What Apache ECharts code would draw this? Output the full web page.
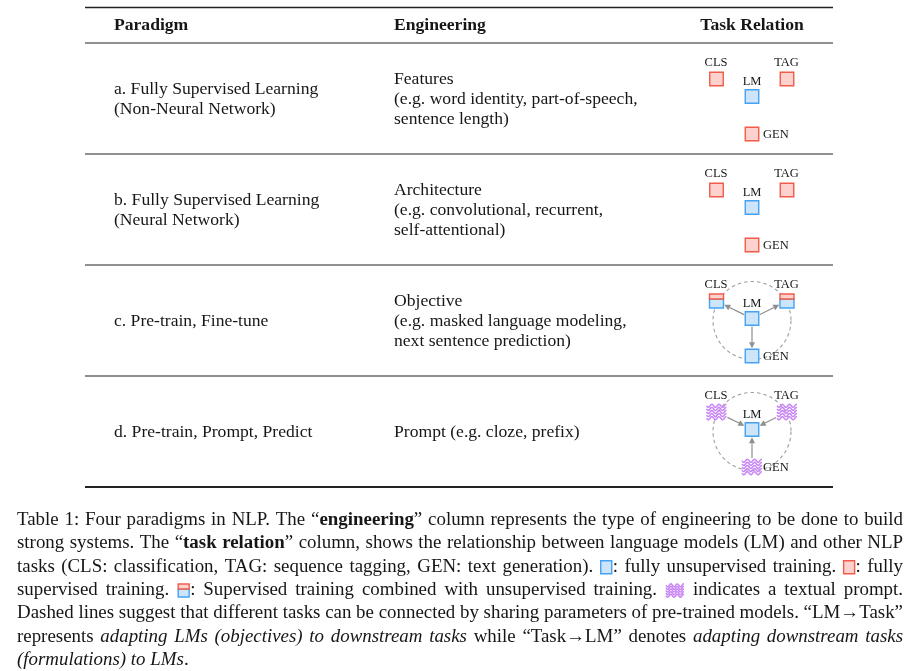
<!DOCTYPE html>
<html><head><meta charset="utf-8">
<script src="https://cdn.jsdelivr.net/npm/echarts@6/dist/echarts.min.js"></script>
<style>html,body{margin:0;padding:0;background:#fff}#c{width:912px;height:671px}</style>
</head><body><div id="c"></div>
<script>
// ---------- data ----------
const headers = ['Paradigm', 'Engineering', 'Task Relation'];
const paradigms = [
  ['a. Fully Supervised Learning', '(Non-Neural Network)'],
  ['b. Fully Supervised Learning', '(Neural Network)'],
  ['c. Pre-train, Fine-tune'],
  ['d. Pre-train, Prompt, Predict']
];
const engineering = [
  ['Features', '(e.g. word identity, part-of-speech,', 'sentence length)'],
  ['Architecture', '(e.g. convolutional, recurrent,', 'self-attentional)'],
  ['Objective', '(e.g. masked language modeling,', 'next sentence prediction)'],
  ['Prompt (e.g. cloze, prefix)']
];
const taskNames = ['CLS', 'TAG', 'LM', 'GEN'];
const nodeKinds = [
  ['sup', 'sup', 'unsup', 'sup'],
  ['sup', 'sup', 'unsup', 'sup'],
  ['mixed', 'mixed', 'unsup', 'unsup'],
  ['prompt', 'prompt', 'unsup', 'prompt']
];
const arrowModes = ['none', 'none', 'out', 'in'];
const sharedParams = [false, false, true, true];
const captionLines = [
  'Table 1: Four paradigms in NLP. The “**engineering**” column represents the type of engineering to be done to build',
  'strong systems. The “**task relation**” column, shows the relationship between language models (LM) and other NLP',
  'tasks (CLS: classification, TAG: sequence tagging, GEN: text generation). [B]: fully unsupervised training. [R]: fully',
  'supervised training. [M]: Supervised training combined with unsupervised training. [W] indicates a textual prompt.',
  'Dashed lines suggest that different tasks can be connected by sharing parameters of pre-trained models. “LM→Task”',
  'represents _adapting LMs (objectives) to downstream tasks_ while “Task→LM” denotes _adapting downstream tasks_',
  '_(formulations) to LMs_.'
];

// ---------- layout / style ----------
const SERIF = "'Liberation Serif','Times New Roman',serif";
const TABLE = { left: 85, right: 833, top: 7.5, headBottom: 43, rowH: 111 };
const COLS = [114, 394, 752];
const BODY_FS = 17.6, LINE_H = 19.7;
const CAP = { left: 17, right: 903, top: 520, lineH: 23.35, fs: 18.9 };
const INK = '#161616';
const BLUE = { fill: '#cce5fb', stroke: '#45a2f2' };
const RED = { fill: '#fdd2ce', stroke: '#f05c49' };
const PURPLE = '#c885f5';

const mctx = document.createElement('canvas').getContext('2d');
function fontStr(fs, b, i) { return (i ? 'italic ' : 'normal ') + (b ? 'bold ' : 'normal ') + fs + 'px ' + SERIF; }
function measure(t, fs, b, i) { mctx.font = fontStr(fs, b, i); return mctx.measureText(t).width; }
function txt(text, x, y, fs, opts) {
  opts = opts || {};
  return {
    type: 'text', silent: true,
    style: {
      text: text, x: x, y: y, font: fontStr(fs, opts.bold, opts.italic), fill: opts.fill || INK,
      textAlign: opts.align || 'left', align: opts.align || 'left',
      textVerticalAlign: 'middle', verticalAlign: 'middle'
    }
  };
}

// shape helpers
function square(cx, cy, w, h, col) {
  return { type: 'rect', shape: { x: cx - w / 2, y: cy - h / 2, width: w, height: h }, style: { fill: col.fill, stroke: col.stroke, lineWidth: 1.4 } };
}
function mixed(cx, cy, w, h, topH) {
  return [
    { type: 'rect', shape: { x: cx - w / 2, y: cy - h / 2 + topH, width: w, height: h - topH }, style: { fill: BLUE.fill, stroke: BLUE.stroke, lineWidth: 1.4 } },
    { type: 'rect', shape: { x: cx - w / 2, y: cy - h / 2, width: w, height: topH }, style: { fill: RED.fill, stroke: RED.stroke, lineWidth: 1.4 } }
  ];
}
function wavy(cx, cy, w, h, nLines) {
  const out = [];
  for (let k = 0; k < nLines; k++) {
    const yo = cy - h / 2 + 1.8 + k * (h - 3.6) / (nLines - 1);
    const pts = [];
    for (let x = -w / 2; x <= w / 2 + 0.01; x += 0.5) {
      pts.push([cx + x, yo + 1.5 * Math.sin(2 * Math.PI * (x + w / 2) / (w / 2.8))]);
    }
    out.push({ type: 'polyline', shape: { points: pts }, style: { stroke: PURPLE, lineWidth: 1.5, fill: null } });
  }
  return out;
}
function nodeShape(kind, p) {
  if (kind === 'unsup') return [square(p[0], p[1], 13.5, 13.5, BLUE)];
  if (kind === 'sup') return [square(p[0], p[1], 13.5, 13.5, RED)];
  if (kind === 'mixed') return mixed(p[0], p[1], 14, 14, 5);
  return wavy(p[0], p[1], 20, 16, 5);
}
function halfExt(kind) { return kind === 'prompt' ? [10, 8] : [7, 7]; }
function edgeDist(u, he) { return Math.min(he[0] / Math.max(Math.abs(u[0]), 1e-6), he[1] / Math.max(Math.abs(u[1]), 1e-6)); }
function arrow(from, to, kFrom, kTo) {
  const dx = to[0] - from[0], dy = to[1] - from[1];
  const L = Math.hypot(dx, dy), u = [dx / L, dy / L];
  const ds = edgeDist(u, halfExt(kFrom)) + 1, de = edgeDist(u, halfExt(kTo)) + 0.8;
  const s = [from[0] + u[0] * ds, from[1] + u[1] * ds];
  const e = [to[0] - u[0] * de, to[1] - u[1] * de];
  const hl = 6, hw = 3, n = [-u[1], u[0]];
  const b = [e[0] - u[0] * hl, e[1] - u[1] * hl];
  return [
    { type: 'line', shape: { x1: s[0], y1: s[1], x2: b[0], y2: b[1] }, style: { stroke: '#8f8f8f', lineWidth: 1.2 } },
    { type: 'polygon', shape: { points: [e, [b[0] + n[0] * hw, b[1] + n[1] * hw], [b[0] - n[0] * hw, b[1] - n[1] * hw]] }, style: { fill: '#8f8f8f' } }
  ];
}

function rowCenter(r) { return TABLE.headBottom + TABLE.rowH * (r + 0.5); }

function renderDiagram(params, api) {
  const r = api.value(0);
  const c = api.coord([COLS[2], rowCenter(r)]);
  const kinds = nodeKinds[r];
  const off = [[-35.5, -19.5], [35, -19.5], [0, -2], [0, 35.5]];
  const pos = off.map(o => [c[0] + o[0], c[1] + o[1]]);
  const ch = [];
  if (sharedParams[r]) {
    ch.push({ type: 'circle', shape: { cx: c[0], cy: c[1], r: 39 }, style: { fill: null, stroke: '#9e9e9e', lineWidth: 1.1, lineDash: [3.5, 3] } });
  }
  const lm = 2;
  [0, 1, 3].forEach(j => {
    if (arrowModes[r] === 'out') ch.push(...arrow(pos[lm], pos[j], kinds[lm], kinds[j]));
    if (arrowModes[r] === 'in') ch.push(...arrow(pos[j], pos[lm], kinds[j], kinds[lm]));
  });
  kinds.forEach((k, j) => ch.push(...nodeShape(k, pos[j])));
  taskNames.forEach((n, j) => {
    if (j === 3) ch.push(txt(n, pos[j][0] + 11, pos[j][1] + 0.5, 12.5));
    else if (j === 2) ch.push(txt(n, pos[j][0], pos[j][1] - 15, 12.5, { align: 'center' }));
    else ch.push(txt(n, pos[j][0] - 0.5, pos[j][1] - 16, 12.5, { align: 'center' }));
  });
  return { type: 'group', children: ch };
}

const ruleYs = [TABLE.top, TABLE.headBottom].concat(paradigms.map((p, i) => TABLE.headBottom + TABLE.rowH * (i + 1)));
function renderRule(params, api) {
  const i = api.value(0);
  const y = ruleYs[i];
  const a = api.coord([TABLE.left, y]), b = api.coord([TABLE.right, y]);
  const lw = (i === 0) ? 1.6 : (i === ruleYs.length - 1 ? 2 : 1.2);
  return { type: 'line', shape: { x1: a[0], y1: a[1], x2: b[0], y2: b[1] }, style: { stroke: '#222', lineWidth: lw } };
}

// ---------- table text ----------
const graphics = [];
const headY = (TABLE.top + TABLE.headBottom) / 2;
graphics.push(txt(headers[0], COLS[0], headY, BODY_FS, { bold: true }));
graphics.push(txt(headers[1], COLS[1], headY, BODY_FS, { bold: true }));
graphics.push(txt(headers[2], COLS[2], headY, BODY_FS, { bold: true, align: 'center' }));
[paradigms, engineering].forEach((col, ci) => {
  col.forEach((lines, r) => {
    const cy = rowCenter(r) + 0.8;
    lines.forEach((l, k) => graphics.push(txt(l, COLS[ci], cy + (k - (lines.length - 1) / 2) * LINE_H, BODY_FS)));
  });
});

// ---------- caption ----------
function parseLine(str, st) {
  return str.split(' ').map(w => {
    const segs = []; let buf = ''; let i = 0;
    const flush = () => { if (buf) { segs.push({ text: buf, bold: st.bold, italic: st.italic }); buf = ''; } };
    while (i < w.length) {
      if (w.startsWith('**', i)) { flush(); st.bold = !st.bold; i += 2; }
      else if (w[i] === '_') { flush(); st.italic = !st.italic; i++; }
      else if (w[i] === '[' && w[i + 2] === ']') { flush(); segs.push({ icon: w[i + 1] }); i += 3; }
      else { buf += w[i]; i++; }
    }
    flush();
    return segs;
  });
}
const ICON_W = { B: 13, R: 13, M: 13, W: 20 };
function segW(s) { return s.icon ? ICON_W[s.icon] : measure(s.text, CAP.fs, s.bold, s.italic); }
const st = { bold: false, italic: false };
const spaceW = measure(' ', CAP.fs, false, false);
captionLines.forEach((line, li) => {
  const words = parseLine(line, st);
  const ww = words.map(ws => ws.reduce((a, s) => a + segW(s), 0));
  const total = ww.reduce((a, b) => a + b, 0);
  const last = li === captionLines.length - 1;
  const gap = last ? spaceW : (CAP.right - CAP.left - total) / (words.length - 1);
  const y = CAP.top + li * CAP.lineH;
  let x = CAP.left;
  words.forEach((ws) => {
    ws.forEach(s => {
      if (s.icon) {
        const cx = x + ICON_W[s.icon] / 2, cy = y + 0.5;
        let els;
        if (s.icon === 'B') els = [square(cx, cy, 11, 13, BLUE)];
        else if (s.icon === 'R') els = [square(cx, cy, 11, 13, RED)];
        else if (s.icon === 'M') els = mixed(cx, cy, 11, 13, 5);
        else els = wavy(cx, cy, 18, 14, 5);
        els.forEach(e => { e.silent = true; graphics.push(e); });
      } else {
        graphics.push(txt(s.text, x, y, CAP.fs, { bold: s.bold, italic: s.italic }));
      }
      x += segW(s);
    });
    x += gap;
  });
});

const chart = echarts.init(document.getElementById('c'), null, { renderer: 'canvas' });
chart.setOption({
  animation: false,
  backgroundColor: '#fff',
  grid: { left: 0, right: 0, top: 0, bottom: 0, containLabel: false },
  xAxis: { type: 'value', min: 0, max: 912, show: false },
  yAxis: { type: 'value', min: 0, max: 671, inverse: true, show: false },
  series: [
    { type: 'custom', coordinateSystem: 'cartesian2d', silent: true, clip: false, data: ruleYs.map((y, i) => [i]), renderItem: renderRule },
    { type: 'custom', coordinateSystem: 'cartesian2d', silent: true, clip: false, data: nodeKinds.map((k, i) => [i]), renderItem: renderDiagram }
  ],
  graphic: { elements: graphics }
});
</script>
</body></html>
